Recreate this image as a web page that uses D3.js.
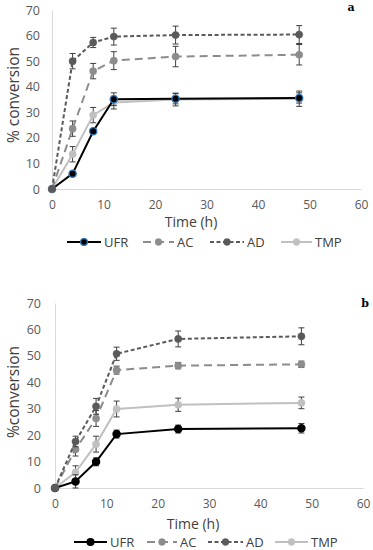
<!DOCTYPE html>
<html>
<head>
<meta charset="utf-8">
<title>Percent conversion over time</title>
<style>
  body { margin: 0; background: #fff; }
  svg { display: block; font-family: "Open Sans", "DejaVu Sans", sans-serif; }
</style>
<script src="https://d3js.org/d3.v7.min.js"></script>
</head>
<body>
<svg width="373" height="550"></svg>
<script>
var times = [0, 4, 8, 12, 24, 48];
var seriesNames = ["UFR", "AC", "AD", "TMP"];
var xTicks = [0, 10, 20, 30, 40, 50, 60];
var yTicks = [0, 10, 20, 30, 40, 50, 60, 70];

// panel a
var ufrA = [0, 6, 22.6, 35.1, 35.3, 35.6];
var acA  = [0, 23.6, 46.1, 50.2, 51.8, 52.5];
var adA  = [0, 50, 57.3, 59.6, 60.2, 60.4];
var tmpA = [0, 13.6, 28.9, 33.8, 35, 35.3];
var ufrErrA = [0, 0.6, 1, 2.5, 2, 2];
var acErrA  = [0, 3, 3, 3.5, 4, 4];
var adErrA  = [0, 3, 2, 3.3, 3.5, 3.5];
var tmpErrA = [0, 3, 3, 2.5, 2.5, 3];

// panel b
var ufrB = [0, 2.5, 9.9, 20.4, 22.3, 22.6];
var acB  = [0, 14.6, 26.3, 44.6, 46.3, 46.8];
var adB  = [0, 17.6, 30.9, 50.8, 56.4, 57.4];
var tmpB = [0, 5.9, 16.6, 29.9, 31.5, 32.2];
var ufrErrB = [0, 2.5, 1.5, 1.5, 1.5, 1.8];
var acErrB  = [0, 2.5, 3, 1.5, 1.2, 1.2];
var adErrB  = [0, 2, 3, 2.5, 3, 3.2];
var tmpErrB = [0, 2.5, 3, 3, 2.5, 2.2];

var styles = {
  UFR: {color: "#000000", dash: null},
  AC:  {color: "#8c8c8c", dash: "8,5"},
  AD:  {color: "#5a5a5a", dash: "4,2.5"},
  TMP: {color: "#c0c0c0", dash: null}
};

var svg = d3.select("svg");

function drawPanel(p) {
  var x = d3.scaleLinear().domain([0, 60]).range([p.left, p.right]);
  var y = d3.scaleLinear().domain([0, 70]).range([p.bottom, p.top]);
  var g = svg.append("g");

  var yAxis = g.append("g")
    .attr("transform", "translate(" + p.left + ",0)")
    .call(d3.axisLeft(y).tickValues(yTicks).tickSize(0).tickPadding(p.yPad));
  yAxis.select(".domain").attr("stroke", "#d9d9d9");
  yAxis.selectAll("text").attr("fill", "#595959").style("font-size", "12.5px")
    .style("font-family", "'Open Sans', sans-serif");

  var xAxis = g.append("g")
    .attr("transform", "translate(0," + p.bottom + ")")
    .call(d3.axisBottom(x).tickValues(xTicks).tickSize(0).tickPadding(11));
  xAxis.select(".domain").attr("stroke", "#d9d9d9");
  xAxis.selectAll("text").attr("fill", "#595959").style("font-size", "12px")
    .style("font-family", "'Open Sans', sans-serif");

  g.append("text")
    .attr("x", p.titleX)
    .attr("y", p.titleY)
    .attr("dy", "0.35em")
    .attr("text-anchor", "middle")
    .attr("fill", "#404040")
    .style("font-size", "14px")
    .text("Time (h)");

  g.append("text")
    .attr("transform", "translate(14," + p.ylabelY + ") rotate(-90)")
    .attr("dy", "0.35em")
    .attr("text-anchor", "middle")
    .attr("fill", "#404040")
    .style("font-size", "15.5px")
    .text(p.ylabel);

  g.append("text")
    .attr("x", p.letterX)
    .attr("y", p.letterY)
    .attr("text-anchor", "middle")
    .attr("font-family", "'DejaVu Serif', 'Liberation Serif', serif")
    .attr("font-weight", "bold")
    .style("font-size", "11px")
    .text(p.letter);

  var line = d3.line().x(function(d) { return x(d.t); }).y(function(d) { return y(d.v); });

  // back to front: TMP, UFR, AC, AD
  ["TMP", "UFR", "AC", "AD"].forEach(function(name) {
    var vals = p.values[name], errs = p.errors[name], st = styles[name];
    var pts = times.map(function(t, i) { return {t: t, v: vals[i], e: errs[i]}; });

    var eb = g.append("g").attr("stroke", "#3f3f3f").attr("stroke-width", 1);
    pts.filter(function(d) { return d.e > 0; }).forEach(function(d) {
      eb.append("line").attr("x1", x(d.t)).attr("x2", x(d.t))
        .attr("y1", y(d.v - d.e)).attr("y2", y(d.v + d.e));
      eb.append("line").attr("x1", x(d.t) - 3).attr("x2", x(d.t) + 3)
        .attr("y1", y(d.v - d.e)).attr("y2", y(d.v - d.e));
      eb.append("line").attr("x1", x(d.t) - 3).attr("x2", x(d.t) + 3)
        .attr("y1", y(d.v + d.e)).attr("y2", y(d.v + d.e));
    });

    g.append("path")
      .datum(pts)
      .attr("fill", "none")
      .attr("stroke", st.color)
      .attr("stroke-width", 2)
      .attr("stroke-dasharray", st.dash)
      .attr("d", line);

    g.selectAll(null)
      .data(pts)
      .enter()
      .append("circle")
      .attr("cx", function(d) { return x(d.t); })
      .attr("cy", function(d) { return y(d.v); })
      .attr("r", 3.6)
      .attr("fill", st.color)
      .attr("stroke", name === "UFR" ? p.ufrStroke : st.color)
      .attr("stroke-width", name === "UFR" ? 1.3 : 0.5);
  });

  // legend
  var lg = g.append("g").attr("transform", "translate(0," + p.legendY + ")");
  seriesNames.forEach(function(name, i) {
    var st = styles[name], l = p.legend[i];
    lg.append("line")
      .attr("x1", l[0]).attr("x2", l[1]).attr("y1", 0).attr("y2", 0)
      .attr("stroke", st.color).attr("stroke-width", 2)
      .attr("stroke-dasharray", st.dash);
    lg.append("circle")
      .attr("cx", (l[0] + l[1]) / 2).attr("cy", 0).attr("r", 3.4)
      .attr("fill", st.color)
      .attr("stroke", name === "UFR" ? p.ufrStroke : st.color)
      .attr("stroke-width", name === "UFR" ? 1.3 : 0.5);
    lg.append("text")
      .attr("x", l[1] + 3).attr("y", 0).attr("dy", "0.35em")
      .attr("fill", "#404040")
      .style("font-size", "13px")
      .text(name);
  });
}

drawPanel({
  left: 52, right: 361, top: 10, bottom: 189, yPad: 12,
  ylabel: "% conversion", ylabelY: 95, letter: "a", letterX: 351, letterY: 11,
  titleX: 191, titleY: 222, legendY: 242, ufrStroke: "#2e75b6",
  legend: [[67, 101], [143, 174], [210, 244], [281, 312]],
  values: {UFR: ufrA, AC: acA, AD: adA, TMP: tmpA},
  errors: {UFR: ufrErrA, AC: acErrA, AD: adErrA, TMP: tmpErrA}
});

drawPanel({
  left: 55, right: 363, top: 303, bottom: 488, yPad: 14,
  ylabel: "%conversion", ylabelY: 392, letter: "b", letterX: 365, letterY: 307,
  titleX: 193, titleY: 524, legendY: 542, ufrStroke: "#000000",
  legend: [[74, 107], [147, 177], [208, 243], [275, 308]],
  values: {UFR: ufrB, AC: acB, AD: adB, TMP: tmpB},
  errors: {UFR: ufrErrB, AC: acErrB, AD: adErrB, TMP: tmpErrB}
});
</script>
</body>
</html>
